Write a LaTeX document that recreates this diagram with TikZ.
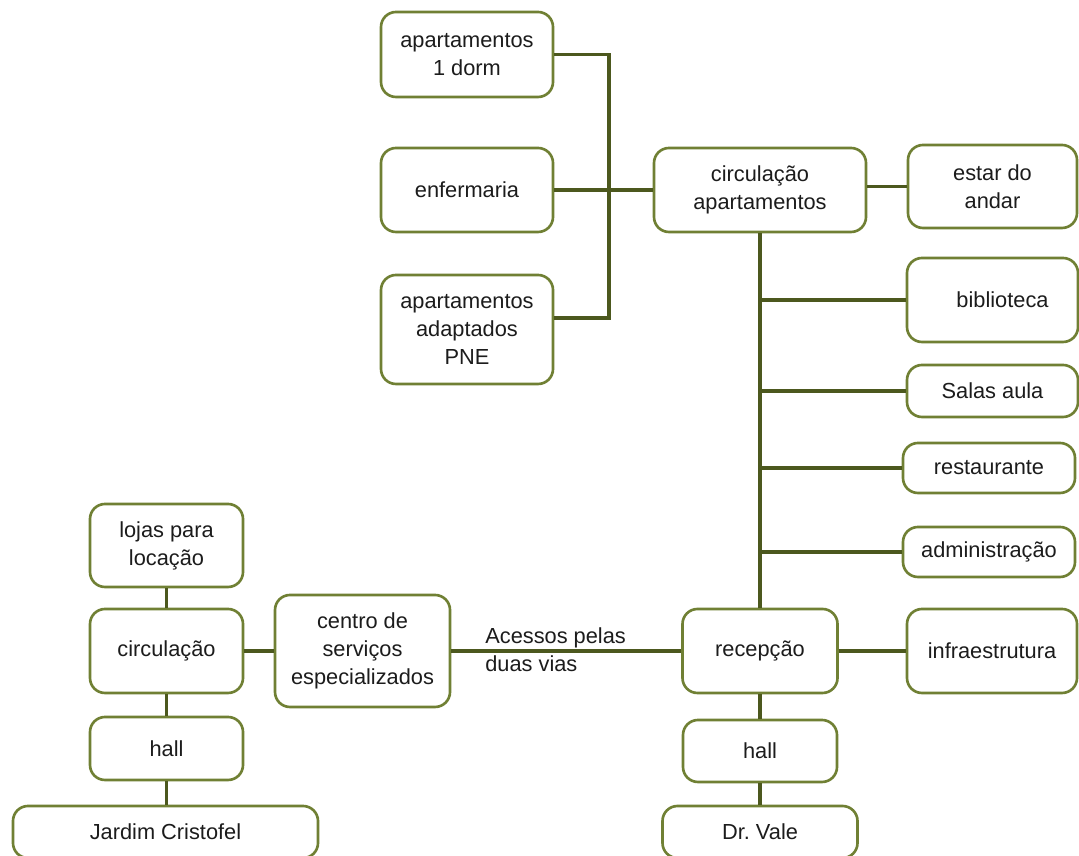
\documentclass[tikz,border=0pt]{standalone}
\usepackage{fontspec}
\setmainfont{Liberation Sans}
\definecolor{boxgreen}{RGB}{112,128,52}
\definecolor{linegreen}{RGB}{76,88,30}
\definecolor{txt}{RGB}{28,28,28}
\begin{document}
\begin{tikzpicture}[x=0.2mm,y=-0.2mm,
  box/.style={draw=boxgreen, line width=1.5pt, rounded corners=3mm, fill=white, align=center,
    text=txt, font=\fontsize{12.4}{16}\selectfont, inner sep=2pt},
  link/.style={draw=linegreen, line width=2.1pt}]
\useasboundingbox[fill=white] (0,0) rectangle (1079,856);
% bloco dos apartamentos
\node[box, minimum width=34.4mm, minimum height=17mm] at (467,54.5) (apt1) {apartamentos\\1 dorm};
\node[box, minimum width=34.4mm, minimum height=16.8mm] at (467,190) (enf) {enfermaria};
\node[box, minimum width=34.4mm, minimum height=21.8mm] at (467,329.5) (pne) {apartamentos\\adaptados\\PNE};
\node[box, minimum width=42.4mm, minimum height=16.8mm] at (760,190) (circapt) {circulação\\apartamentos};
\node[box, minimum width=33.8mm, minimum height=16.6mm] at (992.5,186.5) (estar) {estar do\\andar};
\coordinate (bus) at (609,190);
% coluna da direita
\node[box, minimum width=34.2mm, minimum height=16.8mm] at (992.5,300) (bib) {\hspace{4mm}biblioteca};
\node[box, minimum width=34.2mm, minimum height=10.4mm] at (992.5,391) (salas) {Salas aula};
\node[box, minimum width=34.4mm, minimum height=10mm] at (989,468) (rest) {restaurante};
\node[box, minimum width=34.4mm, minimum height=10mm] at (989,552) (adm) {administração};
\node[box, minimum width=34mm, minimum height=16.8mm] at (992,651) (infra) {infraestrutura};
% acesso Dr. Vale
\node[box, minimum width=31mm, minimum height=16.8mm] at (760,651) (recep) {recepção};
\node[box, minimum width=30.8mm, minimum height=12.4mm] at (760,751) (hallr) {hall};
\node[box, minimum width=39mm, minimum height=10.4mm] at (760,832) (drvale) {Dr.\ Vale};
% acesso Jardim Cristofel
\node[box, minimum width=30.6mm, minimum height=16.6mm] at (166.5,545.5) (lojas) {lojas para\\locação};
\node[box, minimum width=30.6mm, minimum height=16.8mm] at (166.5,651) (circ) {circulação};
\node[box, minimum width=30.6mm, minimum height=12.6mm] at (166.5,748.5) (halll) {hall};
\node[box, minimum width=61mm, minimum height=10.4mm] at (165.5,832) (jardim) {Jardim Cristofel};
\node[box, minimum width=35mm, minimum height=22.4mm] at (362.5,651) (centro) {centro de\\serviços\\especializados};
% ligacoes
\draw[link] (apt1.east) -| (bus) |- ([yshift=2.3mm]pne.east);
\draw[link] (enf) -- (circapt);
\draw[link] (circapt.east |- estar) -- (estar);
\draw[link] (circapt) -- (recep);
\foreach \b in {bib,salas,rest,adm}
  \draw[link] (\b.west) -- (\b.west -| recep.north);
\draw[link] (recep) -- (infra);
\draw[link] (recep) -- (hallr);
\draw[link] (hallr) -- (drvale);
\draw[link] (centro) -- (recep);
\node[align=left, anchor=west, text=txt, font=\fontsize{12.4}{16}\selectfont, inner sep=0pt] at (485,650) (acessos) {Acessos pelas\\duas vias};
\draw[link] (circ) -- (centro);
\draw[link] (lojas) -- (circ);
\draw[link] (circ) -- (halll);
\draw[link] (halll.south) -- (halll.south |- jardim.north);
\end{tikzpicture}
\end{document}
